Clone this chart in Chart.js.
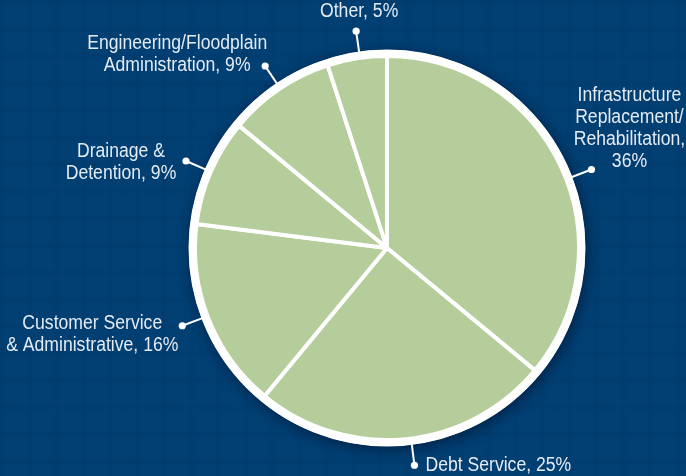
<!DOCTYPE html>
<html>
<head>
<meta charset="utf-8">
<script src="https://cdn.jsdelivr.net/npm/chart.js@4.4.1/dist/chart.umd.min.js"></script>
<style>
  html, body { margin: 0; padding: 0; }
  body {
    width: 686px; height: 476px; overflow: hidden;
    background-color: #023f73;
    background-image:
      linear-gradient(to right, rgba(0,20,50,0.03) 5px, transparent 5px),
      linear-gradient(to bottom, rgba(0,20,50,0.03) 5px, transparent 5px);
    background-size: 27px 27px;
  }
</style>
</head>
<body>
<canvas id="pie" width="686" height="476"></canvas>
<script>
// data
const categories = [
  ['Infrastructure', 'Replacement/', 'Rehabilitation,'],
  ['Debt Service,'],
  ['Customer Service', '& Administrative,'],
  ['Drainage &', 'Detention,'],
  ['Engineering/Floodplain', 'Administration,'],
  ['Other,']
];
const shares = [36, 25, 16, 9, 9, 5];

// label layout: leader angle nudge (deg), text offset from dot, alignment
const leaderNudge = [4.2, -1.8, 0.8, 0, 0.4, 0.9];
const textOffset = [[38, -41], [11, 0], [-90, 9], [-65, 1], [-88, -12], [3, -20]];
const textAlign = ['center', 'left', 'center', 'center', 'center', 'center'];

const labelFont = '20px "Liberation Sans", Arial, sans-serif';
const squeeze = 0.88; // condensed look
const lineGap = 22;

function labelLines(i) {
  const lines = categories[i].slice();
  const pct = shares[i] + '%';
  if (i === 0) lines.push(pct);
  else lines[lines.length - 1] += ' ' + pct;
  return lines;
}

const ringPlugin = {
  id: 'ring',
  beforeDatasetsDraw(chart) {
    const arc = chart.getDatasetMeta(0).data[0];
    const ctx = chart.ctx;
    ctx.save();
    ctx.shadowColor = 'rgba(0,10,30,0.55)';
    ctx.shadowBlur = 14;
    ctx.shadowOffsetX = 2;
    ctx.shadowOffsetY = 3;
    ctx.beginPath();
    ctx.arc(arc.x, arc.y, arc.outerRadius + 6, 0, Math.PI * 2);
    ctx.fillStyle = '#ffffff';
    ctx.fill();
    ctx.restore();
  },
  afterDatasetsDraw(chart) {
    const meta = chart.getDatasetMeta(0);
    const arc0 = meta.data[0];
    const ctx = chart.ctx;
    const cx = arc0.x, cy = arc0.y;
    const rEdge = arc0.outerRadius + 6;
    const rDot = rEdge + 21;

    ctx.save();
    ctx.beginPath();
    ctx.arc(cx, cy, arc0.outerRadius + 3, 0, Math.PI * 2);
    ctx.strokeStyle = '#ffffff';
    ctx.lineWidth = 7;
    ctx.stroke();

    ctx.font = labelFont;
    ctx.textBaseline = 'middle';
    meta.data.forEach((arc, i) => {
      const a = (arc.startAngle + arc.endAngle) / 2 + leaderNudge[i] * Math.PI / 180;
      const x1 = cx + Math.cos(a) * (rEdge - 2), y1 = cy + Math.sin(a) * (rEdge - 2);
      const x2 = cx + Math.cos(a) * rDot, y2 = cy + Math.sin(a) * rDot;
      ctx.strokeStyle = '#ffffff';
      ctx.lineWidth = 2;
      ctx.beginPath();
      ctx.moveTo(x1, y1);
      ctx.lineTo(x2, y2);
      ctx.stroke();
      ctx.fillStyle = '#ffffff';
      ctx.beginPath();
      ctx.arc(x2, y2, 3.6, 0, Math.PI * 2);
      ctx.fill();

      const lines = labelLines(i);
      const bx = x2 + textOffset[i][0];
      const by = y2 + textOffset[i][1] - (lines.length - 1) * lineGap / 2;
      ctx.fillStyle = '#e4ebf3';
      ctx.textAlign = textAlign[i];
      lines.forEach((t, k) => {
        ctx.save();
        ctx.translate(bx, by + k * lineGap);
        ctx.scale(squeeze, 1);
        ctx.fillText(t, 0, 0);
        ctx.restore();
      });
    });
    ctx.restore();
  }
};

new Chart(document.getElementById('pie'), {
  type: 'pie',
  data: {
    labels: categories.map(c => c.join(' ')),
    datasets: [{
      data: shares,
      backgroundColor: '#b5cd9b',
      borderColor: '#ffffff',
      borderWidth: 4,
      radius: 192
    }]
  },
  options: {
    responsive: false,
    animation: false,
    layout: { padding: { left: 88, top: 20, right: 0, bottom: 0 } },
    plugins: {
      legend: { display: false },
      tooltip: { enabled: false }
    }
  },
  plugins: [ringPlugin]
});
</script>
</body>
</html>
